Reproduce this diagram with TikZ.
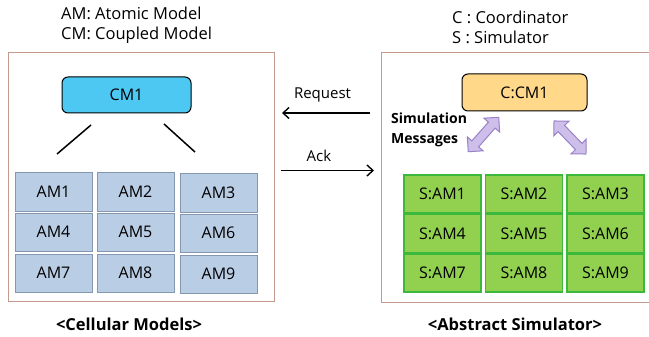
\documentclass[tikz,border=0pt]{standalone}
\usepackage{fontspec}
\setmainfont{Open Sans}
\usetikzlibrary{arrows.meta,shapes.arrows}
\definecolor{framec}{HTML}{C49A8C}
\definecolor{cmfill}{HTML}{4CC8F2}
\definecolor{amfill}{HTML}{B9CDE5}
\definecolor{amdraw}{HTML}{8497AE}
\definecolor{sfill}{HTML}{92D050}
\definecolor{sdraw}{HTML}{3CB83C}
\definecolor{cfill}{HTML}{FFD889}
\definecolor{pfill}{HTML}{CDBFEA}
\definecolor{pdraw}{HTML}{9A82C9}
\tikzset{
  frame/.style={draw=framec, line width=1pt, fill=white},
  topbox/.style={draw=black, line width=1pt, rounded corners=6pt, inner sep=0pt, font=\fontsize{16}{18}\selectfont},
  amcell/.style={draw=amdraw, fill=amfill, line width=1pt, minimum width=77pt, minimum height=38pt, inner sep=0pt, font=\fontsize{16}{18}\selectfont},
  scell/.style={draw=sdraw, fill=sfill, line width=1.2pt, minimum width=77pt, minimum height=38pt, inner sep=0pt, font=\fontsize{16}{18}\selectfont},
  legend/.style={anchor=west, inner sep=0pt, align=left, font=\fontsize{16.5}{20}\selectfont},
  caption/.style={inner sep=0pt, font=\bfseries\fontsize{16.5}{18}\selectfont},
  msgarrow/.style={-{Straight Barb[length=6pt,width=11pt]}, line width=1.4pt},
  fat/.style={double arrow, draw=pdraw, fill=pfill, line width=1pt, double arrow head extend=6pt, inner sep=4pt, minimum height=46pt},
}
\begin{document}
\begin{tikzpicture}[x=1pt,y=-1pt]
\useasboundingbox (0,0) rectangle (649,337);
% frames
\node[frame, minimum width=266pt, minimum height=248pt, inner sep=0pt] (lframe) at (141,177) {};
\node[frame, minimum width=268pt, minimum height=249pt, inner sep=0pt] (rframe) at (515,177.5) {};
% legends
\node[legend] (leg1) at (61,25) {AM: Atomic Model\\CM: Coupled Model};
\node[legend] (leg2) at (452,27) {C : Coordinator\\S : Simulator};
% top boxes
\node[topbox, fill=cmfill, minimum width=129pt, minimum height=36pt] (cm1) at (126.5,95) {CM1};
\node[topbox, fill=cfill, minimum width=125pt, minimum height=37pt] (ccm1) at (524.5,92.5) {C:CM1};
% tree lines
\coordinate (l1a) at (91,125); \coordinate (l1b) at (57,154);
\coordinate (l2a) at (164,124); \coordinate (l2b) at (195,152);
\draw[line width=1.5pt] (l1a) -- (l1b);
\draw[line width=1.5pt] (l2a) -- (l2b);
% AM grid
\node[amcell] (am1) at (53.5,192) {AM1};
\node[amcell] (am2) at (135.5,192) {AM2};
\node[amcell] (am3) at (218.5,193) {AM3};
\node[amcell] (am4) at (53.5,232) {AM4};
\node[amcell] (am5) at (135.5,232) {AM5};
\node[amcell] (am6) at (218.5,233) {AM6};
\node[amcell] (am7) at (53.5,273) {AM7};
\node[amcell] (am8) at (135.5,273) {AM8};
\node[amcell] (am9) at (218.5,274) {AM9};
% S grid
\node[scell] (s1) at (442.5,194) {S:AM1};
\node[scell] (s2) at (524,194) {S:AM2};
\node[scell] (s3) at (605.5,194) {S:AM3};
\node[scell] (s4) at (442.5,233.5) {S:AM4};
\node[scell] (s5) at (524,233.5) {S:AM5};
\node[scell] (s6) at (605.5,233.5) {S:AM6};
\node[scell] (s7) at (442.5,273) {S:AM7};
\node[scell] (s8) at (524,273) {S:AM8};
\node[scell] (s9) at (605.5,273) {S:AM9};
% request / ack
\coordinate (rq1) at (370,113); \coordinate (rq2) at (282,113);
\coordinate (ak1) at (281,170.5); \coordinate (ak2) at (374,170.5);
\draw[msgarrow] (rq1) -- (rq2);
\draw[msgarrow] (ak1) -- (ak2);
\node[inner sep=0pt, font=\fontsize{15}{16}\selectfont] (req) at (322.5,95) {Request};
\node[inner sep=0pt, font=\fontsize{15}{16}\selectfont] (ack) at (319,156) {Ack};
% simulation messages
\node[inner sep=0pt, align=left, anchor=west, font=\bfseries\fontsize{14}{20}\selectfont] (simmsg) at (391,130) {Simulation\\Messages};
\node[fat, rotate=48.5] (pa1) at (483.5,134.5) {};
\node[fat, rotate=-46] (pa2) at (570,137.5) {};
% captions
\node[caption] (cap1) at (129,324) {<Cellular Models>};
\node[caption] (cap2) at (515,324) {<Abstract Simulator>};
\end{tikzpicture}
\end{document}
